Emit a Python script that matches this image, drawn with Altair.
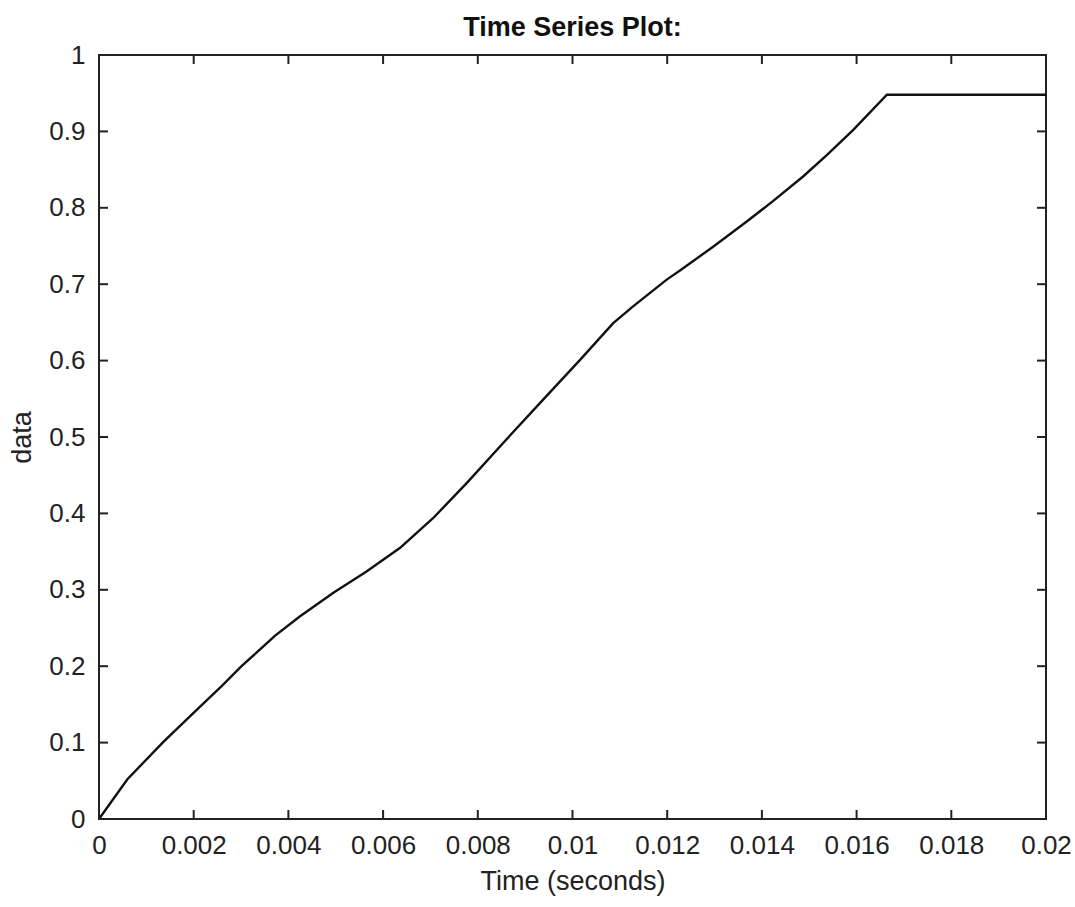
import altair as alt
import pandas as pd

# Series
time_s = [0, 0.0006, 0.00136, 0.00203, 0.00259, 0.00301, 0.00372, 0.00424, 0.00495,
          0.00565, 0.00636, 0.00706, 0.00777, 0.00868, 0.00938, 0.01016, 0.01086, 0.01128,
          0.01199, 0.01227, 0.01297, 0.01368, 0.01424, 0.01487, 0.01537, 0.01593, 0.01664, 0.02]
data_v = [0, 0.052, 0.101, 0.141, 0.174, 0.200, 0.240, 0.265, 0.296,
          0.324, 0.355, 0.394, 0.440, 0.502, 0.549, 0.601, 0.649, 0.671,
          0.706, 0.718, 0.749, 0.782, 0.809, 0.841, 0.869, 0.902, 0.948, 0.948]

x_ticks = [0, 0.002, 0.004, 0.006, 0.008, 0.01, 0.012, 0.014, 0.016, 0.018, 0.02]
y_ticks = [0, 0.1, 0.2, 0.3, 0.4, 0.5, 0.6, 0.7, 0.8, 0.9, 1]

W, H = 947, 764
FONT = "Liberation Sans"

df = pd.DataFrame({"t": time_s, "v": data_v})
xt = pd.DataFrame({"t": x_ticks})
yt = pd.DataFrame({"v": y_ticks})

X = alt.X("t:Q", title="Time (seconds)",
          scale=alt.Scale(domain=[0, 0.02], nice=False, zero=False),
          axis=alt.Axis(values=x_ticks, format="~g", tickSize=0, domain=False, grid=False,
                        labelPadding=13, labelFontSize=26, labelFont=FONT, labelColor="#222",
                        titleFontSize=27, titleFont=FONT, titleFontWeight="normal",
                        titleColor="#222", titlePadding=10, labelFlush=False))
Y = alt.Y("v:Q", title="data",
          scale=alt.Scale(domain=[0, 1], nice=False, zero=False),
          axis=alt.Axis(values=y_ticks, format="~g", tickSize=0, domain=False, grid=False,
                        labelPadding=14, labelFontSize=26, labelFont=FONT, labelColor="#222",
                        titleFontSize=27, titleFont=FONT, titleFontWeight="normal",
                        titleColor="#222", titlePadding=12, labelFlush=False))

line = alt.Chart(df).mark_line(color="#111", strokeWidth=2.4).encode(x=X, y=Y)

tick_style = dict(color="#222", strokeWidth=2)
bottom = alt.Chart(xt).mark_rule(**tick_style).encode(x=X, y=alt.value(H), y2=alt.value(H - 9))
top = alt.Chart(xt).mark_rule(**tick_style).encode(x=X, y=alt.value(0), y2=alt.value(9))
left = alt.Chart(yt).mark_rule(**tick_style).encode(y=Y, x=alt.value(0), x2=alt.value(9))
right = alt.Chart(yt).mark_rule(**tick_style).encode(y=Y, x=alt.value(W), x2=alt.value(W - 9))

chart = (
    alt.layer(line, bottom, top, left, right)
    .properties(
        width=W, height=H,
        title=alt.Title("Time Series Plot:", font=FONT, fontSize=27, fontWeight="bold",
                        color="#111", anchor="middle", offset=17, dy=17),
        autosize=alt.AutoSizeParams(type="none"),
        padding={"left": 99, "top": 55, "right": 29, "bottom": 88},
        background="white",
    )
    .configure_view(stroke="#222", strokeWidth=2)
)

chart.save("out.html", embed_options={"renderer": "svg", "actions": False})
